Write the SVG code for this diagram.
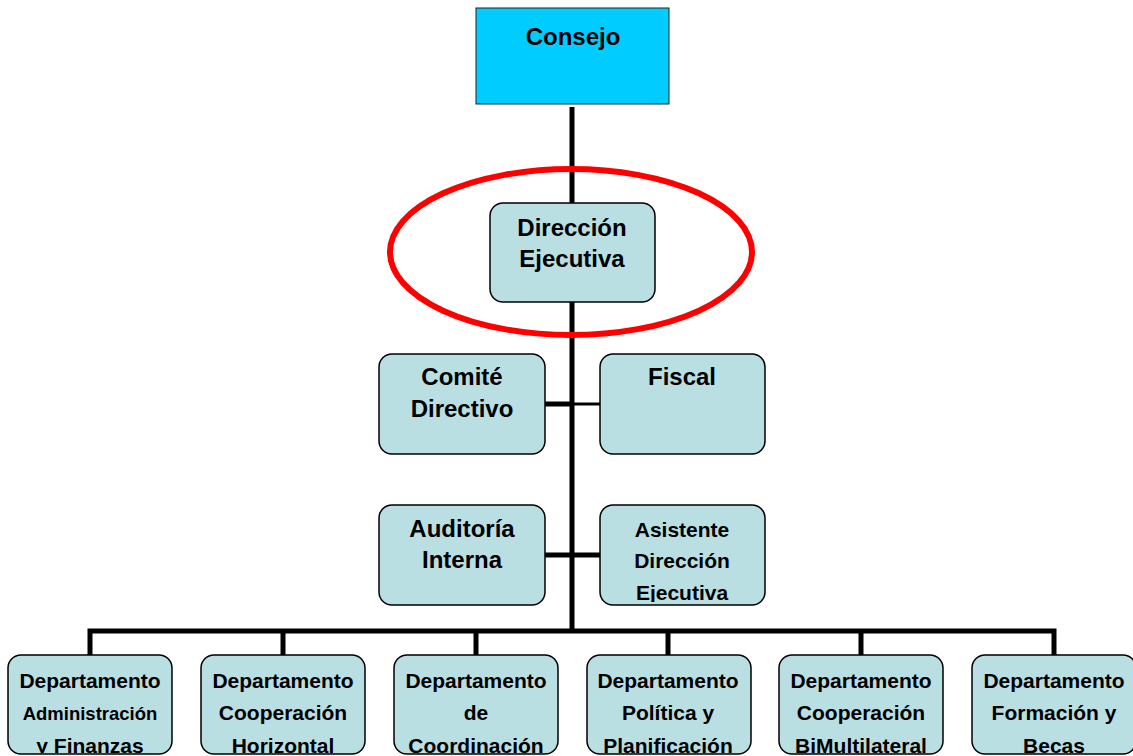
<svg xmlns="http://www.w3.org/2000/svg" width="1133" height="756" viewBox="0 0 1133 756">
<style>
.box{fill:#B9DFE3;stroke:#000;stroke-width:1.5}
.t{font-family:"Liberation Sans",Arial,sans-serif;font-weight:bold;fill:#000;text-anchor:middle}
.l{stroke:#000;stroke-width:5;fill:none}
.big{font-size:24px}
.mid{font-size:21px}
</style>
<defs>
<clipPath id="cDE"><rect x="491" y="204" width="163" height="97"/></clipPath>
<clipPath id="cAS"><rect x="601" y="506" width="163" height="96"/></clipPath>
<clipPath id="cB"><rect x="0" y="657" width="1133" height="96"/></clipPath>
</defs>
<rect width="1133" height="756" fill="#fff"/>
<g id="connectors">
<line class="l" x1="572" y1="107" x2="572" y2="204"/>
<line class="l" x1="572" y1="302" x2="572" y2="633"/>
<line class="l" x1="545" y1="404" x2="572" y2="404"/>
<line stroke="#000" stroke-width="3" x1="572" y1="404" x2="600" y2="404"/>
<line class="l" x1="545" y1="555" x2="600" y2="555"/>
<polyline class="l" points="90,656 90,631 1054,631 1054,656"/>
<line class="l" x1="283" y1="631" x2="283" y2="656"/>
<line class="l" x1="476" y1="631" x2="476" y2="656"/>
<line class="l" x1="668" y1="631" x2="668" y2="656"/>
<line class="l" x1="861" y1="631" x2="861" y2="656"/>
</g>
<g id="consejo">
<rect x="476" y="8" width="193" height="96" fill="#00CCFF" stroke="#222" stroke-width="1"/>
<text class="t big" x="573" y="45">Consejo</text>
</g>
<g id="direccion">
<rect class="box" x="490" y="203" width="165" height="99" rx="13"/>
<g clip-path="url(#cDE)">
<text class="t big" x="572" y="236">Dirección</text>
<text class="t big" x="572" y="267">Ejecutiva</text>
</g>
</g>
<ellipse id="highlight" cx="571" cy="252" rx="181" ry="83" fill="none" stroke="#FF0000" stroke-width="6"/>
<g id="comite">
<rect class="box" x="379" y="354" width="166" height="100" rx="13"/>
<text class="t big" x="462" y="385">Comité</text>
<text class="t big" x="462" y="417">Directivo</text>
</g>
<g id="fiscal">
<rect class="box" x="600" y="354" width="165" height="100" rx="13"/>
<text class="t big" x="682" y="385">Fiscal</text>
</g>
<g id="auditoria">
<rect class="box" x="379" y="505" width="166" height="100" rx="13"/>
<text class="t big" x="462" y="537">Auditoría</text>
<text class="t big" x="462" y="568">Interna</text>
</g>
<g id="asistente">
<rect class="box" x="600" y="505" width="165" height="100" rx="13"/>
<g clip-path="url(#cAS)">
<text class="t mid" x="682" y="537">Asistente</text>
<text class="t mid" x="682" y="568">Dirección</text>
<text class="t mid" x="682" y="600">Ejecutiva</text>
</g>
</g>
<g id="dep1">
<rect class="box" x="8" y="655" width="164" height="99" rx="13"/>
<g clip-path="url(#cB)">
<text class="t mid" x="90" y="688">Departamento</text>
<text class="t" x="90" y="720" font-size="18.5">Administración</text>
<text class="t mid" x="90" y="753">y Finanzas</text>
</g>
</g>
<g id="dep2">
<rect class="box" x="201" y="655" width="164" height="99" rx="13"/>
<g clip-path="url(#cB)">
<text class="t mid" x="283" y="688">Departamento</text>
<text class="t mid" x="283" y="720">Cooperación</text>
<text class="t mid" x="283" y="753">Horizontal</text>
</g>
</g>
<g id="dep3">
<rect class="box" x="394" y="655" width="164" height="99" rx="13"/>
<g clip-path="url(#cB)">
<text class="t mid" x="476" y="688">Departamento</text>
<text class="t mid" x="476" y="720">de</text>
<text class="t mid" x="476" y="753">Coordinación</text>
</g>
</g>
<g id="dep4">
<rect class="box" x="587" y="655" width="164" height="99" rx="13"/>
<g clip-path="url(#cB)">
<text class="t mid" x="668" y="688">Departamento</text>
<text class="t mid" x="668" y="720">Política y</text>
<text class="t mid" x="668" y="753">Planificación</text>
</g>
</g>
<g id="dep5">
<rect class="box" x="779" y="655" width="164" height="99" rx="13"/>
<g clip-path="url(#cB)">
<text class="t mid" x="861" y="688">Departamento</text>
<text class="t mid" x="861" y="720">Cooperación</text>
<text class="t mid" x="861" y="753">BiMultilateral</text>
</g>
</g>
<g id="dep6">
<rect class="box" x="972" y="655" width="164" height="99" rx="13"/>
<g clip-path="url(#cB)">
<text class="t mid" x="1054" y="688">Departamento</text>
<text class="t mid" x="1054" y="720">Formación y</text>
<text class="t mid" x="1054" y="753">Becas</text>
</g>
</g>
</svg>
